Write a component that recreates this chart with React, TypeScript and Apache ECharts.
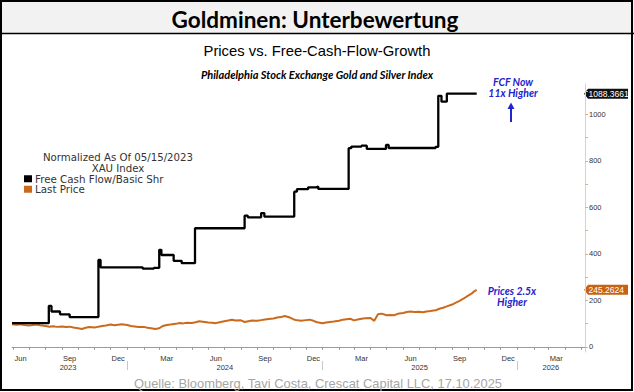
import React, { useEffect, useRef } from "react";
import * as echarts from "echarts";

// ---- Data ----
const fcfDates = [
  "2023-05-30", "2023-08-07", "2023-08-12", "2023-08-28", "2023-09-15",
  "2023-11-08", "2023-11-12", "2024-01-30", "2024-02-20", "2024-03-01",
  "2024-03-05", "2024-03-28", "2024-04-12", "2024-05-07", "2024-08-08",
  "2024-08-14", "2024-09-08", "2024-09-14", "2024-11-09", "2024-11-14",
  "2024-12-05", "2024-12-20", "2024-12-24", "2025-02-19", "2025-02-24",
  "2025-03-15", "2025-03-25", "2025-04-30", "2025-05-05", "2025-08-01",
  "2025-08-06", "2025-08-12", "2025-08-22", "2025-10-17",
];
const fcfValues = [
  102, 176, 152, 140, 128,
  374, 342, 336, 340, 417,
  395, 370, 360, 510, 564,
  557, 575, 560, 667, 678,
  686, 689, 679, 854, 861,
  865, 851, 868, 855, 860,
  1079, 1054, 1088.3661, 1088.3661,
];

const priceDates = [
  "2023-05-30", "2023-06-08", "2023-06-15", "2023-06-22",
  "2023-07-01", "2023-07-08", "2023-07-15", "2023-07-22",
  "2023-08-01", "2023-08-08", "2023-08-15", "2023-08-22",
  "2023-09-01", "2023-09-08", "2023-09-15", "2023-09-22",
  "2023-10-01", "2023-10-08", "2023-10-15", "2023-10-22",
  "2023-11-01", "2023-11-08", "2023-11-15", "2023-11-22",
  "2023-12-01", "2023-12-08", "2023-12-15", "2023-12-22",
  "2024-01-01", "2024-01-08", "2024-01-15", "2024-01-22",
  "2024-02-01", "2024-02-08", "2024-02-15", "2024-02-22",
  "2024-03-01", "2024-03-08", "2024-03-15", "2024-03-22",
  "2024-04-01", "2024-04-08", "2024-04-15", "2024-04-22",
  "2024-05-01", "2024-05-08", "2024-05-15", "2024-05-22",
  "2024-06-01", "2024-06-08", "2024-06-15", "2024-06-22",
  "2024-07-01", "2024-07-08", "2024-07-15", "2024-07-22",
  "2024-08-01", "2024-08-08", "2024-08-15", "2024-08-22",
  "2024-09-01", "2024-09-08", "2024-09-15", "2024-09-22",
  "2024-10-01", "2024-10-08", "2024-10-15", "2024-10-22",
  "2024-11-01", "2024-11-08", "2024-11-15", "2024-11-22",
  "2024-12-01", "2024-12-08", "2024-12-15", "2024-12-22",
  "2025-01-01", "2025-01-08", "2025-01-15", "2025-01-22",
  "2025-02-01", "2025-02-08", "2025-02-15", "2025-02-22",
  "2025-03-01", "2025-03-08", "2025-03-15", "2025-03-22",
  "2025-04-01", "2025-04-08", "2025-04-15", "2025-04-22",
  "2025-05-01", "2025-05-08", "2025-05-15", "2025-05-22",
  "2025-06-01", "2025-06-08", "2025-06-15", "2025-06-22",
  "2025-07-01", "2025-07-08", "2025-07-15", "2025-07-22",
  "2025-08-01", "2025-08-08", "2025-08-15", "2025-08-22",
  "2025-09-01", "2025-09-08", "2025-09-15", "2025-09-22",
  "2025-10-01", "2025-10-08", "2025-10-13", "2025-10-17",
];
const priceValues = [
  97, 95, 97, 94,
  92, 94, 96, 93,
  90, 87, 89, 86,
  88, 85, 87, 83,
  80, 77, 82, 85,
  83, 87, 90, 92,
  96, 93, 95, 97,
  94, 90, 88, 85,
  86, 82, 80, 77,
  80, 90, 94, 96,
  99, 103, 101, 104,
  103, 106, 110, 108,
  105, 104, 102, 106,
  110, 113, 117, 113,
  114, 107, 110, 113,
  112, 115, 118, 120,
  122, 126, 128, 133,
  126, 118, 114, 112,
  115, 117, 112, 106,
  102, 105, 107, 109,
  112, 117, 119, 121,
  114, 118, 121, 123,
  124, 112, 140, 143,
  136, 137, 136, 142,
  146, 150, 152, 150,
  151, 149, 152, 154,
  157, 164, 168, 174,
  182, 190, 198, 207,
  220, 230, 240, 245.2624,
];

const xMinDate = "2023-05-30";
const xMaxDate = "2026-05-08";
const monthLabelDates = [
  "2023-06-15", "2023-09-15", "2023-12-15", "2024-03-15", "2024-06-15", "2024-09-15",
  "2024-12-15", "2025-03-15", "2025-06-15", "2025-09-15", "2025-12-15", "2026-03-15",
];
const monthLabelTexts = ["Jun", "Sep", "Dec", "Mar", "Jun", "Sep", "Dec", "Mar", "Jun", "Sep", "Dec", "Mar"];
const yearBoundaryDates = ["2024-01-01", "2025-01-01", "2026-01-01"];
const yearLabelDates = ["2023-09-12", "2024-07-02", "2025-07-02", "2026-03-05"];
const yearLabelTexts = ["2023", "2024", "2025", "2026"];
const yLabelValues = [0, 200, 400, 600, 800, 1000];
const yTickValues = [0, 100, 200, 300, 400, 500, 600, 700, 800, 900, 1000, 1100];
const lastFcf = 1088.3661;
const lastPrice = 245.2624;

const FCF_COLOR = "#000000";
const PRICE_COLOR = "#cc6a1c";
const BLUE = "#2424cc";

const toTs = (s: string) => new Date(s + "T00:00:00").getTime();

function monthStarts(): number[] {
  const out: number[] = [];
  for (let y = 2023; y <= 2026; y++) {
    for (let m = 0; m < 12; m++) {
      const t = new Date(y, m, 1).getTime();
      if (t >= toTs(xMinDate) && t <= toTs(xMaxDate)) out.push(t);
    }
  }
  return out;
}

export default function App() {
  const ref = useRef<HTMLDivElement>(null);

  useEffect(() => {
    if (!ref.current) return;
    const chart = echarts.init(ref.current, undefined, { renderer: "svg" });

    const monthLabelTs = monthLabelDates.map(toTs);
    const monthMap: Record<string, string> = {};
    monthLabelTs.forEach((t, i) => (monthMap[String(t)] = monthLabelTexts[i]));
    const yearLabelTs = yearLabelDates.map(toTs);
    const yearMap: Record<string, string> = {};
    yearLabelTs.forEach((t, i) => (yearMap[String(t)] = yearLabelTexts[i]));

    const smallFont = "Liberation Sans";

    chart.setOption({
      animation: false,
      backgroundColor: "#ffffff",
      grid: { left: 12, right: 49, top: 84, bottom: 40 },
      legend: {
        orient: "vertical",
        left: 19,
        top: 168.5,
        itemWidth: 8,
        itemHeight: 7,
        itemGap: 0,
        icon: "rect",
        textStyle: { fontFamily: "DejaVu Sans", fontSize: 10.3, lineHeight: 10.5, color: "#333333", padding: [0, 0, 0, -2] },
        data: ["Free Cash Flow/Basic Shr", "Last Price"],
      },
      xAxis: [
        {
          type: "value",
          min: toTs(xMinDate),
          max: toTs(xMaxDate),
          axisLine: { show: true, lineStyle: { color: "#9a9a9a", width: 1 } },
          axisTick: { show: true, customValues: monthStarts(), length: 3, lineStyle: { color: "#9a9a9a" } },
          axisLabel: {
            customValues: monthLabelTs,
            formatter: (v: number) => monthMap[String(v)] ?? "",
            fontSize: 7.5,
            fontFamily: smallFont,
            color: "#333333",
            margin: 2,
          },
          splitLine: { show: false },
        },
        {
          type: "value",
          position: "bottom",
          offset: 9,
          min: toTs(xMinDate),
          max: toTs(xMaxDate),
          axisLine: { show: false },
          axisTick: { show: true, customValues: yearBoundaryDates.map(toTs), length: 9, lineStyle: { color: "#c8c8c8" } },
          axisLabel: {
            customValues: yearLabelTs,
            formatter: (v: number) => yearMap[String(v)] ?? "",
            fontSize: 7.5,
            fontFamily: smallFont,
            color: "#333333",
            margin: 2,
          },
          splitLine: { show: false },
        },
      ],
      yAxis: {
        type: "value",
        position: "right",
        min: -22,
        max: 1130,
        axisLine: { show: true, lineStyle: { color: "#e8d2ae", width: 1 } },
        axisTick: { show: true, customValues: yTickValues, length: 3, lineStyle: { color: "#d4b488" } },
        axisLabel: {
          customValues: yLabelValues,
          formatter: (v: number) => String(v),
          fontSize: 7.5,
          fontFamily: smallFont,
          color: "#333333",
          margin: 4,
        },
        splitLine: { show: false },
      },
      series: [
        {
          name: "Free Cash Flow/Basic Shr",
          type: "line",
          step: "end",
          showSymbol: false,
          symbol: "none",
          xAxisIndex: 0,
          lineStyle: { color: FCF_COLOR, width: 2.3 },
          itemStyle: { color: FCF_COLOR },
          data: fcfDates.map((d, i) => [toTs(d), fcfValues[i]]),
          z: 3,
        },
        {
          name: "Last Price",
          type: "line",
          showSymbol: false,
          symbol: "none",
          xAxisIndex: 0,
          lineStyle: { color: PRICE_COLOR, width: 2 },
          itemStyle: { color: PRICE_COLOR },
          data: priceDates.map((d, i) => [toTs(d), priceValues[i]]),
          z: 2,
        },
      ],
    });

    const yF = chart.convertToPixel({ yAxisIndex: 0 }, lastFcf) as number;
    const yP = chart.convertToPixel({ yAxisIndex: 0 }, lastPrice) as number;
    const tag = (cy: number, color: string, txt: string) => ({
      type: "group",
      children: [
        {
          type: "polygon",
          shape: { points: [[584, cy], [588, cy - 5], [628, cy - 5], [628, cy + 5], [588, cy + 5]] },
          style: { fill: color },
        },
        {
          type: "text",
          x: 588.5,
          y: cy,
          style: { text: txt, fill: "#ffffff", font: "8.5px 'Liberation Sans', Arial, sans-serif", textVerticalAlign: "middle", textAlign: "left" },
        },
      ],
    });

    const blueFont = "italic bold 10.5px Lato, sans-serif";

    chart.setOption({
      graphic: {
        elements: [
          { type: "rect", shape: { x: 0, y: 0, width: 634, height: 34 }, style: { fill: "#f2f2f2" }, z: -1 },
          { type: "line", shape: { x1: 0, y1: 33.5, x2: 634, y2: 33.5 }, style: { stroke: "#000", lineWidth: 1.5 } },
          { type: "rect", shape: { x: 1, y: 1, width: 631, height: 389 }, style: { fill: "none", stroke: "#000", lineWidth: 2 } },
          {
            type: "text", x: 315, y: 19,
            style: { text: "Goldminen: Unterbewertung", font: "bold 22.5px Lato, sans-serif", fill: "#000", textAlign: "center", textVerticalAlign: "middle" },
          },
          {
            type: "text", x: 317, y: 51,
            style: { text: "Prices vs. Free-Cash-Flow-Growth", font: "14.8px 'Liberation Sans', Arial, sans-serif", fill: "#000", textAlign: "center", textVerticalAlign: "middle" },
          },
          {
            type: "text", x: 317, y: 74,
            style: { text: "Philadelphia Stock Exchange Gold and Silver Index", font: "italic bold 11px Lato, sans-serif", fill: "#000", textAlign: "center", textVerticalAlign: "middle" },
          },
          {
            type: "text", x: 118, y: 157.5,
            style: { text: "Normalized As Of 05/15/2023", font: "10.2px 'DejaVu Sans', sans-serif", fill: "#333", textAlign: "center", textVerticalAlign: "middle" },
          },
          {
            type: "text", x: 118, y: 168,
            style: { text: "XAU Index", font: "10.2px 'DejaVu Sans', sans-serif", fill: "#333", textAlign: "center", textVerticalAlign: "middle" },
          },
          {
            type: "text", x: 513, y: 81.5,
            style: { text: "FCF Now", font: blueFont, fill: BLUE, textAlign: "center", textVerticalAlign: "middle" },
          },
          {
            type: "text", x: 513, y: 93,
            style: { text: "11x Higher", font: blueFont, fill: BLUE, textAlign: "center", textVerticalAlign: "middle" },
          },
          { type: "line", shape: { x1: 511, y1: 122, x2: 511, y2: 107 }, style: { stroke: BLUE, lineWidth: 2 } },
          { type: "polygon", shape: { points: [[507.5, 109], [514.5, 109], [511, 102.5]] }, style: { fill: BLUE } },
          {
            type: "text", x: 512, y: 290.5,
            style: { text: "Prices 2.5x", font: blueFont, fill: BLUE, textAlign: "center", textVerticalAlign: "middle" },
          },
          {
            type: "text", x: 512, y: 302,
            style: { text: "Higher", font: blueFont, fill: BLUE, textAlign: "center", textVerticalAlign: "middle" },
          },
          tag(yF, "#111111", lastFcf.toFixed(4)),
          tag(yP, "#c8620e", lastPrice.toFixed(4)),
          {
            type: "text", x: 318, y: 383,
            style: { text: "Quelle: Bloomberg, Tavi Costa, Crescat Capital LLC, 17.10.2025", font: "12.9px 'Liberation Sans', Arial, sans-serif", fill: "#a6a6a6", textAlign: "center", textVerticalAlign: "middle" },
          },
        ],
      },
    });

    return () => chart.dispose();
  }, []);

  return (
    <div
      ref={ref}
      style={{ position: "absolute", left: 0, top: 0, width: 634, height: 392, background: "#fff" }}
    />
  );
}
